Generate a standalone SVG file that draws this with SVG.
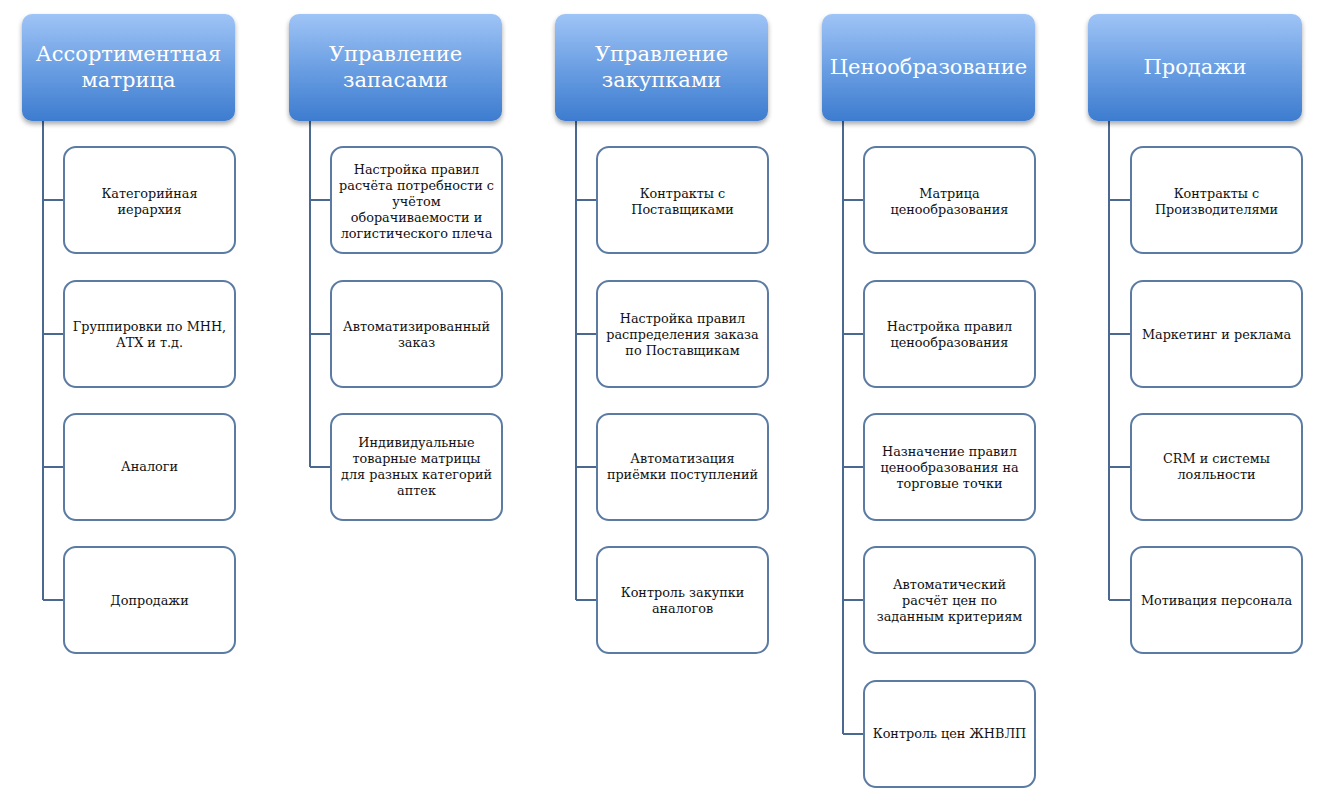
<svg xmlns="http://www.w3.org/2000/svg" width="1326" height="810" viewBox="0 0 1326 810">
<defs>
<linearGradient id="hg" x1="0" y1="0" x2="0" y2="1">
<stop offset="0" stop-color="#9fc4f6"/>
<stop offset="0.5" stop-color="#6b9fe3"/>
<stop offset="1" stop-color="#3d7ccf"/>
</linearGradient>
<filter id="sh" x="-10%" y="-10%" width="125%" height="130%">
<feGaussianBlur in="SourceAlpha" stdDeviation="2.5"/>
<feOffset dx="0" dy="3" result="b"/>
<feComponentTransfer><feFuncA type="linear" slope="0.35"/></feComponentTransfer>
<feMerge><feMergeNode/><feMergeNode in="SourceGraphic"/></feMerge>
</filter>
</defs>
<style>
.hd{fill:url(#hg);filter:url(#sh)}
.ht{font-family:"DejaVu Serif","Liberation Serif",serif;font-size:21px;fill:#fff;text-anchor:middle}
.bx{fill:#fff;stroke:#5b7ba3;stroke-width:2}
.bt{font-family:"DejaVu Serif","Liberation Serif",serif;font-size:12.8px;fill:#111;text-anchor:middle}
.cn{fill:none;stroke:#4b6990;stroke-width:2}
</style>
<rect width="1326" height="810" fill="#fff"/>
<g id="connectors">
<path class="cn" d="M43,121V600M43,200H64M43,334H64M43,467H64M43,600H64"/>
<path class="cn" d="M310,121V467M310,200H331M310,334H331M310,467H331"/>
<path class="cn" d="M576,121V600M576,200H597M576,334H597M576,467H597M576,600H597"/>
<path class="cn" d="M843,121V734M843,200H864M843,334H864M843,467H864M843,600H864M843,734H864"/>
<path class="cn" d="M1109,121V600M1109,200H1130M1109,334H1130M1109,467H1130M1109,600H1130"/>
</g>
<g id="h1"><rect class="hd" x="22" y="14" width="213" height="107" rx="10"/><text class="ht" x="128.5" y="61">Ассортиментная</text><text class="ht" x="128.5" y="87">матрица</text></g>
<g id="h2"><rect class="hd" x="289" y="14" width="213" height="107" rx="10"/><text class="ht" x="395.5" y="61">Управление</text><text class="ht" x="395.5" y="87">запасами</text></g>
<g id="h3"><rect class="hd" x="555" y="14" width="213" height="107" rx="10"/><text class="ht" x="661.5" y="61">Управление</text><text class="ht" x="661.5" y="87">закупками</text></g>
<g id="h4"><rect class="hd" x="822" y="14" width="213" height="107" rx="10"/><text class="ht" x="928.5" y="74">Ценообразование</text></g>
<g id="h5"><rect class="hd" x="1088" y="14" width="214" height="107" rx="10"/><text class="ht" x="1195" y="74">Продажи</text></g>

<g id="n1a"><rect class="bx" x="64" y="147" width="171" height="106" rx="12"/><text class="bt" x="149.5" y="198">Категорийная</text><text class="bt" x="149.5" y="214">иерархия</text></g>
<g id="n1b"><rect class="bx" x="64" y="281" width="171" height="106" rx="12"/><text class="bt" x="149.5" y="331">Группировки по МНН,</text><text class="bt" x="149.5" y="347">АТХ и т.д.</text></g>
<g id="n1c"><rect class="bx" x="64" y="414" width="171" height="106" rx="12"/><text class="bt" x="149.5" y="471">Аналоги</text></g>
<g id="n1d"><rect class="bx" x="64" y="547" width="171" height="106" rx="12"/><text class="bt" x="149.5" y="605">Допродажи</text></g>

<g id="n2a"><rect class="bx" x="331" y="147" width="171" height="106" rx="12"/><text class="bt" x="416.5" y="174">Настройка правил</text><text class="bt" x="416.5" y="190">расчёта потребности с</text><text class="bt" x="416.5" y="206">учётом</text><text class="bt" x="416.5" y="222">оборачиваемости и</text><text class="bt" x="416.5" y="238">логистического плеча</text></g>
<g id="n2b"><rect class="bx" x="331" y="281" width="171" height="106" rx="12"/><text class="bt" x="416.5" y="331">Автоматизированный</text><text class="bt" x="416.5" y="347">заказ</text></g>
<g id="n2c"><rect class="bx" x="331" y="414" width="171" height="106" rx="12"/><text class="bt" x="416.5" y="447">Индивидуальные</text><text class="bt" x="416.5" y="463">товарные матрицы</text><text class="bt" x="416.5" y="479">для разных категорий</text><text class="bt" x="416.5" y="495">аптек</text></g>

<g id="n3a"><rect class="bx" x="597" y="147" width="171" height="106" rx="12"/><text class="bt" x="682.5" y="198">Контракты с</text><text class="bt" x="682.5" y="214">Поставщиками</text></g>
<g id="n3b"><rect class="bx" x="597" y="281" width="171" height="106" rx="12"/><text class="bt" x="682.5" y="323">Настройка правил</text><text class="bt" x="682.5" y="339">распределения заказа</text><text class="bt" x="682.5" y="355">по Поставщикам</text></g>
<g id="n3c"><rect class="bx" x="597" y="414" width="171" height="106" rx="12"/><text class="bt" x="682.5" y="463">Автоматизация</text><text class="bt" x="682.5" y="479">приёмки поступлений</text></g>
<g id="n3d"><rect class="bx" x="597" y="547" width="171" height="106" rx="12"/><text class="bt" x="682.5" y="597">Контроль закупки</text><text class="bt" x="682.5" y="613">аналогов</text></g>

<g id="n4a"><rect class="bx" x="864" y="147" width="171" height="106" rx="12"/><text class="bt" x="949.5" y="198">Матрица</text><text class="bt" x="949.5" y="214">ценообразования</text></g>
<g id="n4b"><rect class="bx" x="864" y="281" width="171" height="106" rx="12"/><text class="bt" x="949.5" y="331">Настройка правил</text><text class="bt" x="949.5" y="347">ценообразования</text></g>
<g id="n4c"><rect class="bx" x="864" y="414" width="171" height="106" rx="12"/><text class="bt" x="949.5" y="456">Назначение правил</text><text class="bt" x="949.5" y="472">ценообразования на</text><text class="bt" x="949.5" y="488">торговые точки</text></g>
<g id="n4d"><rect class="bx" x="864" y="547" width="171" height="106" rx="12"/><text class="bt" x="949.5" y="589">Автоматический</text><text class="bt" x="949.5" y="605">расчёт цен по</text><text class="bt" x="949.5" y="621">заданным критериям</text></g>
<g id="n4e"><rect class="bx" x="864" y="681" width="171" height="106" rx="12"/><text class="bt" x="949.5" y="738">Контроль цен ЖНВЛП</text></g>

<g id="n5a"><rect class="bx" x="1131" y="147" width="171" height="106" rx="12"/><text class="bt" x="1216.5" y="198">Контракты с</text><text class="bt" x="1216.5" y="214">Производителями</text></g>
<g id="n5b"><rect class="bx" x="1131" y="281" width="171" height="106" rx="12"/><text class="bt" x="1216.5" y="339">Маркетинг и реклама</text></g>
<g id="n5c"><rect class="bx" x="1131" y="414" width="171" height="106" rx="12"/><text class="bt" x="1216.5" y="463">CRM и системы</text><text class="bt" x="1216.5" y="479">лояльности</text></g>
<g id="n5d"><rect class="bx" x="1131" y="547" width="171" height="106" rx="12"/><text class="bt" x="1216.5" y="605">Мотивация персонала</text></g>
</svg>
